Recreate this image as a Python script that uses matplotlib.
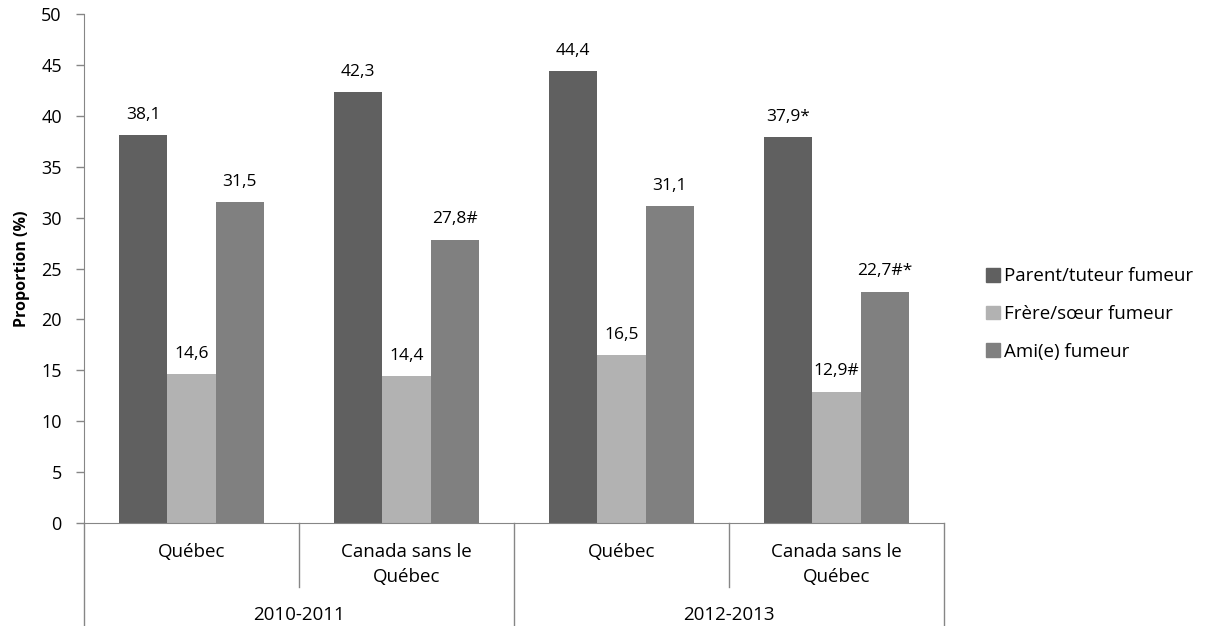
import matplotlib
matplotlib.use("Agg")
import matplotlib.pyplot as plt
from matplotlib.lines import Line2D
from matplotlib.patches import Patch
import numpy as np

plt.rcParams['font.family'] = ['Open Sans', 'DejaVu Sans']

categories = ["Québec", "Canada sans le\nQuébec", "Québec", "Canada sans le\nQuébec"]
periods = ["2010-2011", "2012-2013"]
series_names = ["Parent/tuteur fumeur", "Frère/sœur fumeur", "Ami(e) fumeur"]
parent = [38.1, 42.3, 44.4, 37.9]
frere = [14.6, 14.4, 16.5, 12.9]
ami = [31.5, 27.8, 31.1, 22.7]
parent_lbl = ["38,1", "42,3", "44,4", "37,9*"]
frere_lbl = ["14,6", "14,4", "16,5", "12,9#"]
ami_lbl = ["31,5", "27,8#", "31,1", "22,7#*"]
yticks = [0, 5, 10, 15, 20, 25, 30, 35, 40, 45, 50]

colors = ["#606060", "#b2b2b2", "#808080"]
axcol = "#868686"

fig = plt.figure(figsize=(12.12, 6.26), dpi=100)
ax = fig.add_axes([84/1212, 1-523/626, (944-84)/1212, (523-14)/626])

x = np.arange(len(categories))
w = 0.225
all_vals = [parent, frere, ami]
all_lbls = [parent_lbl, frere_lbl, ami_lbl]
for i, (vals, lbls) in enumerate(zip(all_vals, all_lbls)):
    bars = ax.bar(x + (i - 1) * w, vals, width=w, color=colors[i], label=series_names[i], zorder=2)
    for b, l in zip(bars, lbls):
        ax.annotate(l, (b.get_x() + b.get_width()/2, b.get_height()), xytext=(0, 9),
                    textcoords="offset points", ha="center", va="bottom", fontsize=12.5, color="#000000")

ax.set_xlim(-0.5, 3.5)
ax.set_ylim(0, 50)
ax.set_yticks(yticks)
ax.set_yticklabels([str(t) for t in yticks], fontsize=13)
ax.tick_params(axis='y', direction='out', length=6, color=axcol, width=1, pad=10)
ax.set_xticks([])
for s in ['top', 'right']:
    ax.spines[s].set_visible(False)
ax.spines['left'].set_color(axcol)
ax.spines['bottom'].set_color(axcol)
ax.set_ylabel("Proportion (%)", fontsize=11.5, fontweight='bold')
ax.yaxis.set_label_coords(-(84-30)/860, 0.5)

trans = ax.get_xaxis_transform()
for i, c in enumerate(categories):
    lines = c.split("\n")
    ax.text(x[i], -0.057, lines[0], transform=trans, ha='center', va='center', fontsize=13.5)
    if len(lines) > 1:
        ax.text(x[i], -0.106, lines[1], transform=trans, ha='center', va='center', fontsize=13.5)
for j, p in enumerate(periods):
    ax.text(0.5 + 2*j, -0.181, p, transform=trans, ha='center', va='center', fontsize=13.5)

# separators
for xb in [-0.5, 1.5, 3.5]:
    ax.add_line(Line2D([xb, xb], [0, -0.202], transform=trans, color=axcol, lw=1, clip_on=False))
for xb in [0.5, 2.5]:
    ax.add_line(Line2D([xb, xb], [0, -0.126], transform=trans, color=axcol, lw=1, clip_on=False))

handles = [Patch(color=colors[i]) for i in range(3)]
fig.legend(handles, series_names, loc='center left', bbox_to_anchor=(978/1212, 1-314/626),
           frameon=False, fontsize=13.5, handlelength=0.75, handleheight=0.75, handletextpad=0.25,
           labelspacing=1.05, borderaxespad=0)

fig.savefig("out.png", dpi=100)
